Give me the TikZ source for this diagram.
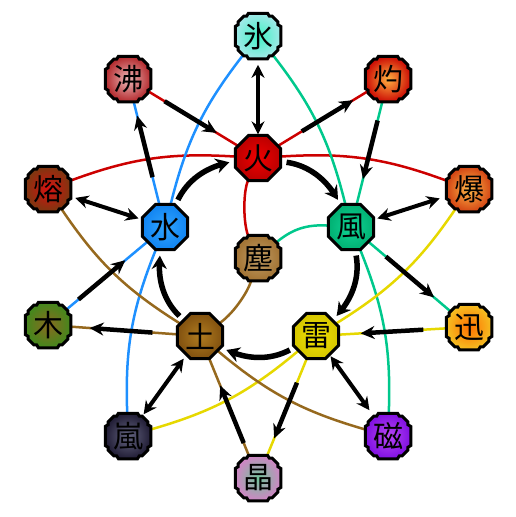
\documentclass[tikz,border=0pt]{standalone}
\usepackage{fontspec}
\newfontfamily\kanjifont{Noto Sans CJK JP}
\usepackage{tikz}
\usetikzlibrary{shapes.geometric, arrows.meta, bending, backgrounds}

\pgfdeclareradialshading[kkin,kkout]{kkshade}{\pgfpoint{0bp}{0bp}}{color(0bp)=(kkin); color(27bp)=(kkout); color(50bp)=(kkout)}

\definecolor{linkred}{HTML}{CC0000}
\definecolor{linkblue}{HTML}{1E90FF}
\definecolor{linkgreen}{HTML}{00C88C}
\definecolor{linkyellow}{HTML}{E6D800}
\definecolor{linkbrown}{HTML}{96691E}

\newdimen\kkr
\def\kkpt#1#2{\pgfpointadd{\centerpoint}{\pgfpoint{#1\kkr}{#2\kkr}}}
\pgfdeclareshape{notched}{
    \inheritsavedanchors[from=circle]
    \inheritanchor[from=circle]{center}
    \inheritanchorborder[from=circle]
    \backgroundpath{
        \kkr=\radius
        \pgfpathmoveto{\kkpt{-0.42}{1}}
        \foreach \px/\py in {0.42/1,0.5/0.87,0.62/0.87,0.87/0.62,0.87/0.5,1/0.42,
                             1/-0.42,0.87/-0.5,0.87/-0.62,0.62/-0.87,0.5/-0.87,0.42/-1,
                             -0.42/-1,-0.5/-0.87,-0.62/-0.87,-0.87/-0.62,-0.87/-0.5,-1/-0.42,
                             -1/0.42,-0.87/0.5,-0.87/0.62,-0.62/0.87,-0.5/0.87}{
            \pgfpathlineto{\kkpt{\px}{\py}}
        }
        \pgfpathclose
    }
}

\tikzset{
    tint/.style 2 args={/utils/exec={\definecolor{kkin}{HTML}{#1}\definecolor{kkout}{HTML}{#2}}, shade, shading=kkshade},
    basic/.style={regular polygon, regular polygon sides=8, draw=black, line width=3pt, inner sep=0pt, outer sep=0pt, minimum size=49pt, font=\fontsize{30}{30}\kanjifont},
    advanced/.style={notched, draw=black, line width=3pt, inner sep=0pt, outer sep=0pt, minimum size=45.5pt, font=\fontsize{30}{30}\kanjifont},
    redlink/.style={line width=2.5pt, draw=linkred},
    bluelink/.style={line width=2.5pt, draw=linkblue},
    greenlink/.style={line width=2.5pt, draw=linkgreen},
    yellowlink/.style={line width=2.5pt, draw=linkyellow},
    brownlink/.style={line width=2.5pt, draw=linkbrown},
    arrow/.style={-{Stealth[length=14pt,width=13pt]}, line width=4.5pt, draw=black},
    twoway/.style={{Stealth[length=13pt,width=13pt]}-{Stealth[length=13pt,width=13pt]}, line width=4pt, draw=black},
    cycle/.style={-{Stealth[length=14pt,width=15pt,bend]}, line width=5.5pt, draw=black, bend left=28, shorten <=6pt, shorten >=6pt},
    trim/.style 2 args={shorten <=#1pt, shorten >=#2pt}
}

\begin{document}
\begin{tikzpicture}[x=1pt, y=-1pt]
        \useasboundingbox (0,0) rectangle (516,517);

        % Cinque elementi di base
        \node (fire) [basic, tint={EE0000}{B80000}] at (258,158) {火};
        \node (water) [basic, tint={30A4FF}{0F82F0}] at (165,227) {水};
        \node (wind) [basic, tint={10D496}{00AE70}] at (351,227) {風};
        \node (earth) [basic, tint={B07C20}{7E4E0E}] at (200,336) {土};
        \node (thunder) [basic, tint={F0E200}{D4C400}] at (316,336) {雷};

        % Elementi combinati
        \node (ice) [advanced, tint={40F2C4}{A8E8EA}] at (258,36) {氷};
        \node (boil) [advanced, tint={ECB8B8}{B02024}] at (128,79) {沸};
        \node (scorch) [advanced, tint={FFB040}{C80000}] at (388,79) {灼};
        \node (lava) [advanced, tint={D81010}{763A10}] at (48,189) {熔};
        \node (blast) [advanced, tint={FFB848}{D03C10}] at (469,189) {爆};
        \node (dust) [advanced, tint={C09C64}{A07030}] at (258,258) {塵};
        \node (wood) [advanced, tint={8A6A20}{3E8A1C}] at (48,325) {木};
        \node (swift) [advanced, tint={FF7000}{F4C424}] at (469,327) {迅};
        \node (storm) [advanced, tint={646480}{1C1830}] at (128,436) {嵐};
        \node (magnet) [advanced, tint={B848F4}{7C0CE0}] at (388,436) {磁};
        \node (crystal) [advanced, tint={70C498}{D880C8}] at (258,478) {晶};

        % Linee colorate sotto i nodi
        \begin{scope}[on background layer]
            \draw [redlink] (lava) to[bend left=12] (fire);
            \draw [redlink] (fire) to[bend left=12] (blast);
            \draw [redlink] (boil) -- (fire);
            \draw [redlink] (fire) -- (scorch);
            \draw [redlink] (fire) to[bend right=24, looseness=0.6] (dust);
            \draw [bluelink] (ice) to[bend right=12] (water);
            \draw [bluelink] (water) to[bend right=12] (storm);
            \draw [bluelink] (water) -- (boil);
            \draw [bluelink] (wood) -- (water);
            \draw [greenlink] (ice) to[bend left=12] (wind);
            \draw [greenlink] (wind) to[bend left=12] (magnet);
            \draw [greenlink] (scorch) -- (wind);
            \draw [greenlink] (wind) -- (swift);
            \draw [greenlink] (dust) to[bend left=22] (wind);
            \draw [yellowlink] (blast) to[bend left=12] (thunder);
            \draw [yellowlink] (thunder) to[bend left=12] (storm);
            \draw [yellowlink] (swift) -- (thunder);
            \draw [yellowlink] (thunder) -- (crystal);
            \draw [brownlink] (lava) to[bend right=12] (earth);
            \draw [brownlink] (earth) to[bend right=12] (magnet);
            \draw [brownlink] (earth) -- (wood);
            \draw [brownlink] (crystal) -- (earth);
            \draw [brownlink] (dust) to[bend left=20, looseness=0.7] (earth);
        \end{scope}

        % Ciclo esterno
        \draw [cycle] (water) to (fire);
        \draw [cycle] (fire) to (wind);
        \draw [cycle] (wind) to (thunder);
        \draw [cycle] (thunder) to (earth);
        \draw [cycle] (earth) to (water);

        % Frecce singole
        \draw [arrow, trim={20}{25}] (boil) -- (fire);
        \draw [arrow, trim={28}{18}] (fire) -- (scorch);
        \draw [arrow, trim={28}{15}] (water) -- (boil);
        \draw [arrow, trim={20}{26}] (scorch) -- (wind);
        \draw [arrow, trim={17}{29}] (wood) -- (water);
        \draw [arrow, trim={25}{19}] (earth) -- (wood);
        \draw [arrow, trim={15}{29}] (crystal) -- (earth);
        \draw [arrow, trim={26}{20}] (thunder) -- (crystal);
        \draw [arrow, trim={23}{23}] (wind) -- (swift);
        \draw [arrow, trim={23}{22}] (swift) -- (thunder);

        % Frecce doppie
        \draw [twoway, trim={6}{1}, xshift=-2pt] (ice) -- (fire);
        \draw [twoway, trim={6}{4}] (lava) -- (water);
        \draw [twoway, trim={8}{4}] (blast) -- (wind);
        \draw [twoway, trim={5}{4}] (earth) -- (storm);
        \draw [twoway, trim={2}{9}] (thunder) -- (magnet);

    \end{tikzpicture}
\end{document}
